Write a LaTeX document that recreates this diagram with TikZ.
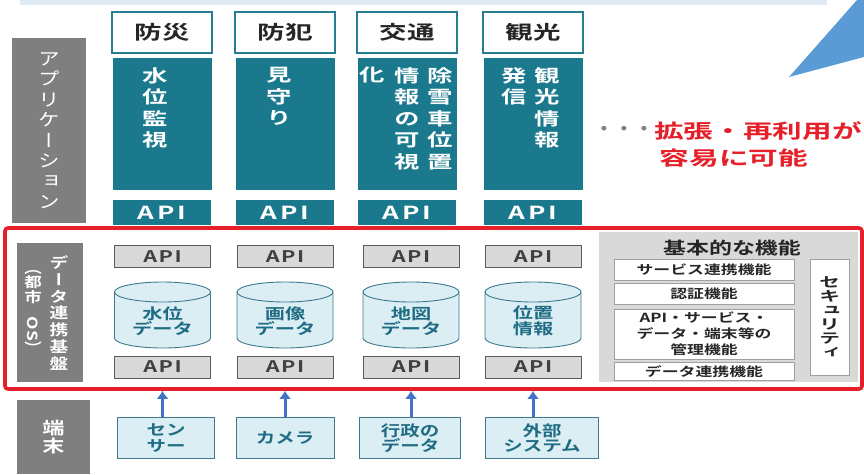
\documentclass[tikz,border=0pt]{standalone}
\usepackage{fontspec}
\usepackage{graphicx}
\setmainfont{Noto Sans CJK JP}[BoldFont={Noto Sans CJK JP Bold}]
\newfontfamily\jpv{Noto Sans CJK JP}[BoldFont={Noto Sans CJK JP Bold},RawFeature=+vert]
\usetikzlibrary{arrows.meta}

\definecolor{appteal}{RGB}{26,121,141}
\definecolor{catline}{RGB}{40,125,145}
\definecolor{labelgray}{RGB}{127,127,127}
\definecolor{apigray}{RGB}{217,217,217}
\definecolor{apiline}{RGB}{90,90,90}
\definecolor{dbfill}{RGB}{219,238,244}
\definecolor{dbline}{RGB}{62,122,142}
\definecolor{dbtext}{RGB}{31,108,132}
\definecolor{osred}{RGB}{230,32,40}
\definecolor{bandblue}{RGB}{222,235,245}
\definecolor{triblue}{RGB}{91,155,213}
\definecolor{arrowblue}{RGB}{68,114,196}
\definecolor{panelgray}{RGB}{217,217,217}
\definecolor{fnline}{RGB}{160,160,160}

\newcommand{\jpfs}[3]{\fontsize{#1}{#2}\selectfont\addfontfeature{FakeStretch=#3}}
\newcommand{\apiword}[1]{A\kern#1 P\kern#1 I}

\tikzset{
  catbox/.style={draw=catline,line width=1.3pt,fill=white,minimum width=100pt,minimum height=41pt,inner sep=0pt,text=black!85,font=\bfseries\jpfs{19}{19}{1.45}},
  appbox/.style={fill=appteal,minimum width=99pt,minimum height=132pt,inner sep=0pt},
  apptxt/.style={text=white,align=center,inner sep=0pt,anchor=north,font=\jpv\bfseries\jpfs{17.5}{21.5}{1.45}},
  apiteal/.style={fill=appteal,text=white,minimum width=98pt,minimum height=25pt,inner sep=0pt,font=\bfseries\jpfs{18}{18}{1.45}},
  apibox/.style={fill=apigray,draw=apiline,line width=0.9pt,text=black!75,minimum width=96pt,minimum height=22pt,inner sep=0pt,font=\bfseries\jpfs{16}{16}{1.35}},
  labelbox/.style={fill=labelgray,text=white,align=center,inner sep=0pt},
  dbshape/.style={fill=dbfill,draw=dbline,line width=0.9pt},
  dbtxt/.style={text=dbtext,align=center,inner sep=0pt,font=\bfseries\jpfs{15}{15.5}{1.35}},
  termbox/.style={fill=dbfill,draw=dbline,line width=1pt,text=dbtext,align=center,minimum height=41pt,inner sep=0pt,font=\bfseries\jpfs{15}{15.5}{1.3}},
  uparrow/.style={draw=arrowblue,line width=3pt,-{Latex[length=8pt,width=12pt]}},
  redframe/.style={draw=osred,line width=3.6pt,rounded corners=3pt,inner sep=0pt},
  fnbox/.style={fill=white,draw=fnline,line width=0.8pt,minimum width=180pt,inner sep=0pt,align=center,text=black!85,font=\bfseries\jpfs{12.5}{16}{1.35}},
  redtxt/.style={text=osred,inner sep=0pt,font=\bfseries\jpfs{19.5}{19.5}{1.52}}
}

\begin{document}
\begin{tikzpicture}[x=1pt,y=-1pt]
\useasboundingbox (0,0) rectangle (864,474);
\fill[bandblue] (20,0) rectangle (827,4.5);
\fill[triblue] (789,77) -- (857,0) -- (864,0) -- (864,57) -- cycle;

% applications
\foreach \x/\i/\cat in {162/1/防災,285/2/防犯,407/3/交通,533/4/観光}{
  \node[catbox] (cat\i) at (\x,32.5) {\cat};
  \node[appbox] (app\i) at (\x,124) {};
  \node[apiteal] (apiT\i) at (\x,212.5) {\apiword{3pt}};
}
\node[apptxt] (appA1) at (155,67) {水\\位\\監\\視};
\node[apptxt] (appB1) at (279,67) {見\\守\\り};
\node[apptxt] (appC1) at (440,67) {除\\雪\\車\\位\\置};
\node[apptxt] (appC2) at (407,67) {情\\報\\の\\可\\視};
\node[apptxt] (appC3) at (372,67) {化};
\node[apptxt] (appD1) at (547,67) {観\\光\\情\\報};
\node[apptxt] (appD2) at (514,67) {発\\信};

\node[redtxt,anchor=west] (reuse) at (654,131) {拡張・再利用が};
\node[redtxt] (easy) at (734,158) {容易に可能};
\node[anchor=east,inner sep=0pt,text=black!50,font=\bfseries\jpfs{18}{18}{1.1}] (dots) at (reuse.west) {・・・};

% layer labels
\node[labelbox,minimum width=74pt,minimum height=185pt,font=\jpv\jpfs{18}{20.4}{1.2}] (applabel) at (49,130.5) {ア\\プ\\リ\\ケ\\ー\\シ\\ョ\\ン};
\node[labelbox,minimum width=66pt,minimum height=139pt] (oslabel) at (50,312.5) {};
\node[text=white,align=center,inner sep=0pt,font=\jpv\bfseries\jpfs{15}{16.7}{1.25}] (oslabel1) at (59,313) {デ\\ー\\タ\\連\\携\\基\\盤};
\node[text=white,align=center,inner sep=0pt,font=\jpv\bfseries\jpfs{14}{14.5}{1.25}] (oslabel2) at (33,312) {（\\都\\市\\\rotatebox{-90}{OS}\\）};
\node[labelbox,minimum width=73pt,minimum height=74pt,font=\jpv\bfseries\jpfs{17}{18}{1.3}] (termlabel) at (53.5,437) {端\\末};

% basic functions
\node[fill=panelgray,minimum width=259pt,minimum height=150pt,inner sep=0pt] (basic) at (728.5,306.5) {};
\node[inner sep=0pt,text=black!85,font=\bfseries\jpfs{17}{17}{1.35}] (basictitle) at (732,248.5) {基本的な機能};
\node[fnbox,minimum height=21pt] (fn1) at (704,269.5) {サービス連携機能};
\node[fnbox,minimum height=21pt] (fn2) at (704,293.5) {認証機能};
\node[fnbox,minimum height=50pt] (fn3) at (704,334) {API・サービス・\\データ・端末等の\\管理機能};
\node[fnbox,minimum height=18pt] (fn4) at (704,371.5) {データ連携機能};
\node[fnbox,minimum width=39pt,minimum height=116pt,font=\jpv\bfseries\jpfs{14}{14}{1.5}] (security) at (829.5,317) {セ\\キ\\ュ\\リ\\テ\\ィ};

\node[redframe,minimum width=857pt,minimum height=161pt] (dataos) at (433.5,308.5) {};

% data
\foreach \x/\i/\db in {162.5/1/{水位\\データ},285/2/{画像\\データ},411/3/{地図\\データ},533/4/{位置\\情報}}{
  \node[apibox] (apiU\i) at (\x,256.5) {\apiword{1.5pt}};
  \draw[dbshape] (\x-48,292) -- (\x-48,338) arc[start angle=180,end angle=360,x radius=48pt,y radius=10pt]
    -- (\x+48,292) arc[start angle=0,end angle=180,x radius=48pt,y radius=10pt] -- cycle;
  \draw[dbshape,fill=none] (\x-48,292) arc[start angle=180,end angle=360,x radius=48pt,y radius=10pt];
  \node[dbtxt] (db\i) at (\x,321) {\db};
  \node[apibox] (apiL\i) at (\x,367) {\apiword{1.5pt}};
}

% devices
\foreach \x/\w/\i/\tm in {166/97/1/{セン\\サー},285/98/2/{カメラ},410/101/3/{行政の\\データ},542/113/4/{外部\\システム}}{
  \node[termbox,minimum width=\w pt] (term\i) at (\x,438) {\tm};
  \draw[uparrow] (apiL\i |- term\i.north) -- (apiL\i |- dataos.south);
}
\end{tikzpicture}
\end{document}
